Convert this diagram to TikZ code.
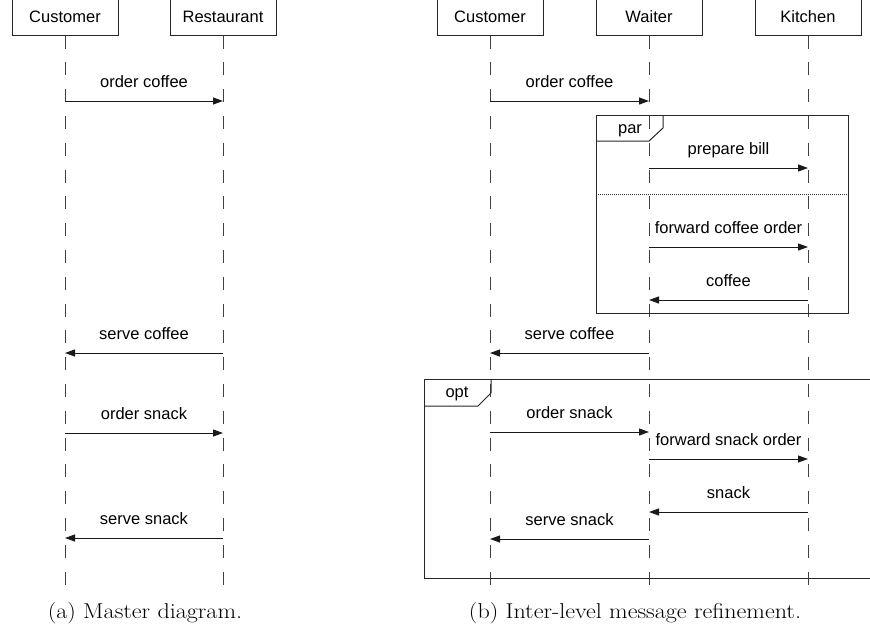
\documentclass[tikz,border=0pt]{standalone}
\usepackage{fontspec}
\newfontfamily\diagfont{Liberation Sans}
\newfontfamily\captfont{Latin Modern Roman}
\usetikzlibrary{arrows.meta}

% sub-figure caption, set a little wide
\newcommand{\subcapt}[1]{\scalebox{1.12}[1]{\captfont\fontsize{21.5}{24}\selectfont #1}}

\begin{document}
\begin{tikzpicture}[x=1pt,y=-1pt,
  every node/.style={font=\diagfont\fontsize{16.5}{19}\selectfont},
  actor/.style={draw=black!85, line width=1pt, minimum width=106pt,
                minimum height=37pt, inner sep=0pt},
  life/.style={draw=black!75, line width=1pt, dash pattern=on 13pt off 13.8pt},
  msg/.style={draw=black!90, line width=1pt, -{Triangle[length=10pt,width=7pt]}},
  lbl/.style={anchor=base, yshift=14pt, inner sep=0pt},
  fragment/.style={draw=black!85, line width=1pt},
  tag/.style={anchor=base, inner sep=0pt},
  capt/.style={anchor=base, inner sep=0pt}
]
\useasboundingbox (0,0) rectangle (870,641);

% ---------- (a) master diagram ----------
\node[actor] (aC) at (65,16.5) {Customer};
\node[actor] (aR) at (223,16.5) {Restaurant};
\coordinate (aCe) at (65,586);
\coordinate (aRe) at (223,586);
\draw[life] (aC.south) -- (aCe);
\draw[life] (aR.south) -- (aRe);

\coordinate (r1) at (0,101);
\coordinate (r2) at (0,353);
\coordinate (r3) at (0,433);
\coordinate (r4) at (0,538);

\draw[msg] (aC |- r1) -- node[lbl] (la1) {order coffee} (aR |- r1);
\draw[msg] (aR |- r2) -- node[lbl] (la2) {serve coffee} (aC |- r2);
\draw[msg] (aC |- r3) -- node[lbl] (la3) {order snack} (aR |- r3);
\draw[msg] (aR |- r4) -- node[lbl] (la4) {serve snack} (aC |- r4);

\node[capt] (capA) at (145,618) {\subcapt{(a) Master diagram.}};

% ---------- (b) refined diagram ----------
\node[actor] (bC) at (490,16.5) {Customer};
\node[actor] (bW) at (649,16.5) {Waiter};
\node[actor] (bK) at (808,16.5) {Kitchen};
\coordinate (bCe) at (490,586);
\coordinate (bWe) at (649,586);
\coordinate (bKe) at (808,586);
\draw[life] (bC.south) -- (bCe);
\draw[life] (bW.south) -- (bWe);
\draw[life] (bK.south) -- (bKe);

% par fragment
\draw[fragment] (596,115) rectangle (848,313);
\draw[fragment] (596,141) -- (649,141) -- (663,128) -- (663,115);
\node[tag] (tpar) at (630,133) {par};
\draw[draw=black!80, line width=0.8pt, dash pattern=on 1pt off 1pt] (596,194) -- (848,194);

% opt fragment
\draw[fragment] (424,379) -- (880,379);
\draw[fragment] (424,379) -- (424,578) -- (880,578);
\draw[fragment] (424,406) -- (478,406) -- (491,393) -- (491,379);
\node[tag] (topt) at (457,397) {opt};

\coordinate (s1) at (0,101);
\coordinate (s2) at (0,168);
\coordinate (s3) at (0,247);
\coordinate (s4) at (0,300);
\coordinate (s5) at (0,353);
\coordinate (s6) at (0,432);
\coordinate (s7) at (0,459);
\coordinate (s8) at (0,512);
\coordinate (s9) at (0,539);

\draw[msg] (bC |- s1) -- node[lbl] (lb1) {order coffee} (bW |- s1);
\draw[msg] (bW |- s2) -- node[lbl] (lb2) {prepare bill} (bK |- s2);
\draw[msg] (bW |- s3) -- node[lbl] (lb3) {forward coffee order} (bK |- s3);
\draw[msg] (bK |- s4) -- node[lbl] (lb4) {coffee} (bW |- s4);
\draw[msg] (bW |- s5) -- node[lbl] (lb5) {serve coffee} (bC |- s5);
\draw[msg] (bC |- s6) -- node[lbl] (lb6) {order snack} (bW |- s6);
\draw[msg] (bW |- s7) -- node[lbl] (lb7) {forward snack order} (bK |- s7);
\draw[msg] (bK |- s8) -- node[lbl] (lb8) {snack} (bW |- s8);
\draw[msg] (bW |- s9) -- node[lbl] (lb9) {serve snack} (bC |- s9);

\node[capt] (capB) at (635,618) {\subcapt{(b) Inter-level message refinement.}};
\end{tikzpicture}
\end{document}
